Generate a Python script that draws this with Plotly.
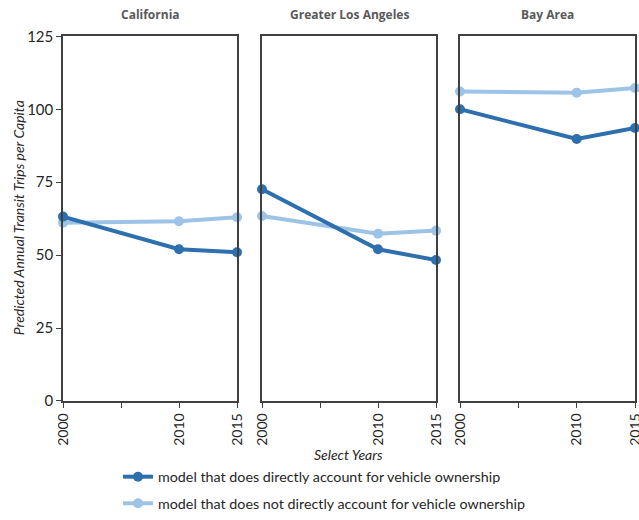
import plotly.graph_objects as go

years = [2000, 2010, 2015]
regions = ["California", "Greater Los Angeles", "Bay Area"]
with_vehicle = {
    "California": [63.2, 52.0, 51.0],
    "Greater Los Angeles": [72.6, 52.0, 48.3],
    "Bay Area": [100.0, 89.8, 93.6],
}
without_vehicle = {
    "California": [61.1, 61.6, 63.0],
    "Greater Los Angeles": [63.4, 57.3, 58.4],
    "Bay Area": [106.1, 105.7, 107.3],
}
series_names = [
    "model that does directly account for vehicle ownership",
    "model that does not directly account for vehicle ownership",
]
tick_vals = [2000, 2005, 2010, 2015]
tick_text = ["2000", "", "2010", "2015"]
y_ticks = [0, 25, 50, 75, 100, 125]

dark = "#2e70ad"
light = "#9dc3e6"
axis_col = "#404040"
FONT = "Lato"

W, H = 639, 520
xdoms = [(63 / W, 237 / W), (262 / W, 436 / W), (460 / W, 635 / W)]
ydom = (1 - 408 / H, 1 - 37 / H)

fig = go.Figure()
for i, reg in enumerate(regions):
    sfx = "" if i == 0 else str(i + 1)
    for vals, col in [(without_vehicle[reg], light), (with_vehicle[reg], dark)]:
        name = series_names[1] if col == light else series_names[0]
        fig.add_trace(go.Scatter(
            x=years, y=vals, mode="lines+markers",
            line=dict(color=col, width=4),
            marker=dict(color=col, size=10),
            name=name, showlegend=(i == 0),
            legendgroup="a" if col == dark else "b",
            legendrank=1 if col == dark else 2,
            xaxis="x" + sfx, yaxis="y" + sfx, cliponaxis=False,
        ))
    fig.layout["xaxis" + sfx] = dict(
        domain=list(xdoms[i]), range=[2000, 2015], anchor="y" + sfx,
        tickvals=tick_vals, ticktext=tick_text, tickangle=-90,
        ticks="outside", ticklen=5, tickcolor=axis_col,
        showline=True, linecolor=axis_col, linewidth=1.5, mirror=True,
        showgrid=False, zeroline=False, automargin=False,
        ticklabeloverflow="allow",
        tickfont=dict(family=FONT, size=14, color="#262626"),
    )
    fig.layout["yaxis" + sfx] = dict(
        domain=list(ydom), range=[0, 125], anchor="x" + sfx,
        tickvals=y_ticks, showticklabels=(i == 0),
        ticks="outside" if i == 0 else "", ticklen=5, tickcolor=axis_col,
        showline=True, linecolor=axis_col, linewidth=1.5, mirror=True,
        showgrid=False, zeroline=False, automargin=False,
        tickfont=dict(family=FONT, size=15, color="#262626"),
    )
    fig.add_annotation(
        x=(xdoms[i][0] + xdoms[i][1]) / 2, y=1 - 15 / H, xref="paper", yref="paper",
        xanchor="center", yanchor="middle",
        text="<b>" + reg + "</b>", showarrow=False,
        font=dict(family="Open Sans", size=12, color="#595959"),
    )

fig.add_annotation(
    x=18 / W, y=1 - 222 / H, xref="paper", yref="paper",
    xanchor="center", yanchor="middle",
    text="<i>Predicted Annual Transit Trips per Capita</i>", textangle=-90,
    showarrow=False, font=dict(family=FONT, size=14, color="#262626"),
)
fig.add_annotation(
    x=348 / W, y=1 - 462 / H, xref="paper", yref="paper",
    xanchor="center", yanchor="middle",
    text="<i>Select Years</i>", showarrow=False,
    font=dict(family=FONT, size=14, color="#262626"),
)

fig.update_layout(
    width=W, height=H, autosize=False,
    margin=dict(l=0, r=0, t=0, b=0, pad=0),
    paper_bgcolor="white", plot_bgcolor="white",
    showlegend=True,
    legend=dict(
        x=118 / W, y=1 - 469 / H, xanchor="left", yanchor="top",
        orientation="v", font=dict(family=FONT, size=14.3, color="#262626"),
        tracegroupgap=5, itemwidth=30, bgcolor="rgba(0,0,0,0)",
    ),
)

fig.write_html(
    "out.html",
    config={"displayModeBar": False},
    post_script="document.body.style.margin='0';document.body.style.overflow='hidden';",
)
